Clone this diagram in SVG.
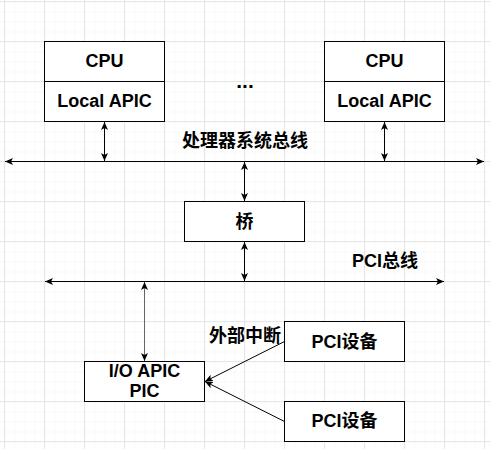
<svg xmlns="http://www.w3.org/2000/svg" width="490" height="449" viewBox="0 0 490 449">
<defs>
<pattern id="minor" x="4.5" y="1.5" width="10" height="10" patternUnits="userSpaceOnUse">
<path d="M0,0 H10 M0,0 V10" fill="none" stroke="#f3f3f3" stroke-width="1"/>
</pattern>
<pattern id="major" x="4" y="1" width="40" height="40" patternUnits="userSpaceOnUse">
<path d="M0,0.5 H40 M0.5,0 V40" fill="none" stroke="#e6e6e6" stroke-width="1"/>
</pattern>
<marker id="arr" viewBox="0 0 8 8" refX="8" refY="4" markerWidth="8" markerHeight="8" markerUnits="userSpaceOnUse" orient="auto-start-reverse">
<path d="M0,0.5 L8,4 L0,7.5 L2,4 Z" fill="#000"/>
</marker>
<style>
.box{fill:#fff;stroke:#000;stroke-width:1}
.t{font-family:"Liberation Sans","Noto Sans CJK SC",sans-serif;font-size:18px;font-weight:bold;fill:#000;text-anchor:middle}
.c{fill:none;stroke:#000;stroke-width:1}
.both{marker-start:url(#arr);marker-end:url(#arr)}
.end{marker-end:url(#arr)}
</style>
</defs>
<rect width="490" height="449" fill="#fff"/>
<rect width="490" height="449" fill="url(#minor)"/>
<rect width="490" height="449" fill="url(#major)"/>

<g id="connectors">
<line class="c both" x1="5" y1="161.5" x2="484" y2="161.5"/>
<line class="c both" x1="104.5" y1="122" x2="104.5" y2="161"/>
<line class="c both" x1="384.5" y1="122" x2="384.5" y2="161"/>
<line class="c both" x1="244.5" y1="162" x2="244.5" y2="201"/>
<line class="c both" x1="244.5" y1="242" x2="244.5" y2="281"/>
<line class="c both" x1="45" y1="281.5" x2="444" y2="281.5"/>
<line class="c both" x1="144.5" y1="282" x2="144.5" y2="361" style="stroke:#666"/>
<line class="c end" x1="284.5" y1="341.5" x2="205" y2="381.5"/>
<line class="c end" x1="284.5" y1="421.5" x2="205" y2="381.5"/>
</g>

<g id="cpu1">
<rect class="box" x="44.5" y="41.5" width="120" height="80"/>
<line class="c" x1="44.5" y1="81.5" x2="164.5" y2="81.5"/>
<text class="t" x="104.5" y="67">CPU</text>
<text class="t" x="104.5" y="106.6">Local APIC</text>
</g>
<g id="cpu2">
<rect class="box" x="324.5" y="41.5" width="120" height="80"/>
<line class="c" x1="324.5" y1="81.5" x2="444.5" y2="81.5"/>
<text class="t" x="384.5" y="67">CPU</text>
<text class="t" x="384.5" y="106.6">Local APIC</text>
</g>
<g id="dots">
<text class="t" x="245" y="87.5" style="font-size:21px">...</text>
</g>
<g id="sysbus-label">
<text class="t" x="245" y="146.5">处理器系统总线</text>
</g>
<g id="bridge">
<rect class="box" x="184.5" y="201.5" width="120" height="40"/>
<text class="t" x="244.5" y="228">桥</text>
</g>
<g id="pcibus-label">
<text class="t" x="385" y="267">PCI总线</text>
</g>
<g id="ext-label">
<text class="t" x="245" y="341.5">外部中断</text>
</g>
<g id="ioapic">
<rect class="box" x="84.5" y="361.5" width="120" height="40"/>
<text class="t" x="144.5" y="376.5">I/O APIC</text>
<text class="t" x="144.5" y="397">PIC</text>
</g>
<g id="pcidev1">
<rect class="box" x="284.5" y="321.5" width="120" height="40"/>
<text class="t" x="344.5" y="347.5">PCI设备</text>
</g>
<g id="pcidev2">
<rect class="box" x="284.5" y="401.5" width="120" height="40"/>
<text class="t" x="344.5" y="426.5">PCI设备</text>
</g>
</svg>
